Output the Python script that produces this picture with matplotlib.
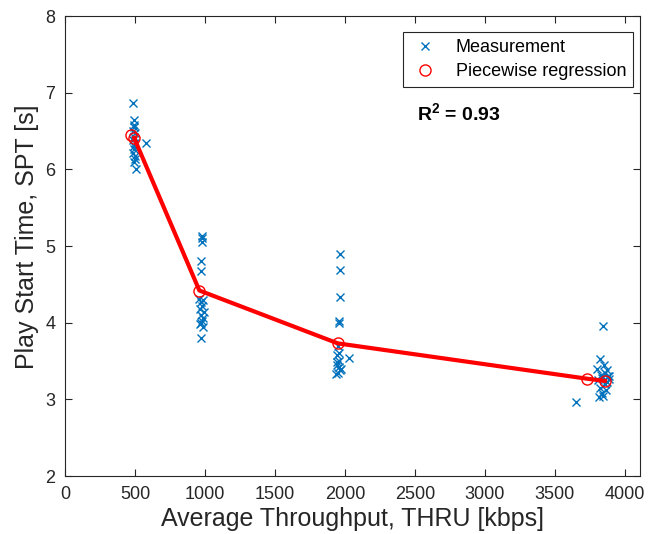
import numpy as np
import matplotlib.pyplot as plt

plt.rcParams['font.family'] = ['Liberation Sans', 'DejaVu Sans']
plt.rcParams['mathtext.fontset'] = 'custom'
plt.rcParams['mathtext.rm'] = 'Liberation Sans'
plt.rcParams['mathtext.bf'] = 'Liberation Sans:bold'

thru = [487, 490, 492, 495, 485, 498, 490, 488, 500, 493, 496, 489, 502, 497, 491, 505, 580,
        980, 982, 978, 975, 970, 960, 985, 975, 980, 968, 990, 972, 985, 978, 962, 988, 975, 970,
        1968, 1965, 1962, 1960, 1955, 1950, 1958, 2032, 1945, 1940, 1955, 1962, 1948, 1935, 1960,
        1943, 1970,
        3843, 3820, 3850, 3800, 3870, 3860, 3830, 3880, 3840, 3810, 3890, 3855, 3825, 3865, 3875,
        3835, 3845, 3815, 3650, 3885]
spt = [6.86, 6.65, 6.58, 6.55, 6.50, 6.47, 6.42, 6.38, 6.35, 6.30, 6.27, 6.22, 6.18, 6.14, 6.10, 6.01, 6.35,
       5.13, 5.10, 5.05, 4.80, 4.68, 4.31, 4.30, 4.27, 4.22, 4.18, 4.14, 4.10, 4.06, 4.02, 3.98, 3.95, 4.00, 3.80,
       4.89, 4.69, 4.34, 4.02, 3.99, 3.70, 3.61, 3.54, 3.49, 3.45, 3.42, 3.38, 3.35, 3.33, 3.50,
       3.58, 3.40,
       3.96, 3.52, 3.45, 3.40, 3.38, 3.35, 3.32, 3.30, 3.28, 3.25, 3.27, 3.20, 3.15, 3.12, 3.22,
       3.08, 3.05, 3.03, 2.97, 3.30]

# piecewise regression points
reg_x = [472, 494, 960, 1950, 3728, 3857]
reg_y = [6.45, 6.41, 4.42, 3.73, 3.27, 3.24]

grey = '#262626'
fig = plt.figure(figsize=(6.6, 5.34), dpi=100)
ax = fig.add_axes([0.0985, 0.1086, 0.8715, 0.8613])

ax.plot(thru, spt, 'x', color='#0072BD', markersize=5.5, markeredgewidth=1, label='Measurement')
ax.plot(reg_x[1:], reg_y[1:], '-', color='red', lw=3)
ax.plot(reg_x, reg_y, 'o', color='red', mfc='none', markersize=8, markeredgewidth=1,
        label='Piecewise regression')

ax.set_xlim(0, 4110)
ax.set_ylim(2, 8)
ax.set_xticks(np.arange(0, 4001, 500))
ax.set_yticks(np.arange(2, 9, 1))
ax.tick_params(direction='in', top=True, right=True, labelsize=13, length=5,
               color=grey, labelcolor=grey, pad=7)
for s in ax.spines.values():
    s.set_linewidth(0.8)
    s.set_color(grey)

ax.set_xlabel('Average Throughput, THRU [kbps]', fontsize=18, labelpad=3, color=grey)
ax.set_ylabel('Play Start Time, SPT [s]', fontsize=18, color=grey)
ax.yaxis.set_label_coords(-0.046, 0.52)

leg = ax.legend(loc='upper right', bbox_to_anchor=(0.988, 0.966), fontsize=13, fancybox=False,
                edgecolor=grey, framealpha=1, borderpad=0.4, handlelength=1.6,
                handletextpad=0.9, labelspacing=0.4, borderaxespad=0)
leg.get_frame().set_linewidth(0.8)
for t in leg.get_texts():
    t.set_color('black')

ax.text(0.612, 0.788, r'$\mathbf{R^2}$ = 0.93', transform=ax.transAxes, fontsize=14,
        fontweight='bold', ha='left', va='center')

fig.savefig('out.png', dpi=100)
